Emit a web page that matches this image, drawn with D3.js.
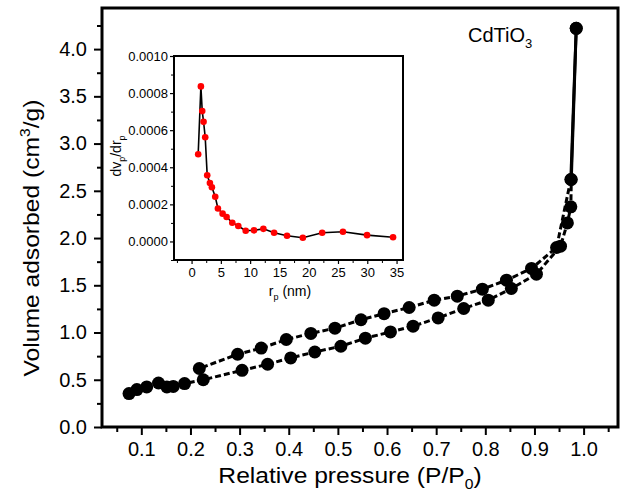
<!DOCTYPE html>
<html>
<head>
<meta charset="utf-8">
<script src="https://cdn.jsdelivr.net/npm/d3@7"></script>
<style>
  html, body { margin: 0; padding: 0; background: #fff; }
  svg { display: block; font-family: "Liberation Sans", Arial, sans-serif; }
</style>
</head>
<body>
<svg id="chart" width="622" height="495"></svg>
<script>
// ---- Main isotherm data (P/P0, volume cm3/g) ----
const adsP = [0.075, 0.091, 0.111, 0.135, 0.152, 0.165, 0.188, 0.226, 0.305, 0.357, 0.404, 0.453, 0.506, 0.556, 0.607, 0.653, 0.704, 0.756, 0.806, 0.853, 0.904, 0.953, 0.967, 0.974, 0.975, 0.985];
const adsV = [0.354, 0.396, 0.424, 0.466, 0.424, 0.43, 0.46, 0.50, 0.60, 0.664, 0.731, 0.794, 0.855, 0.94, 1.006, 1.067, 1.155, 1.254, 1.342, 1.466, 1.618, 1.914, 2.16, 2.33, 2.62, 4.22];
const desP = [0.985, 0.974, 0.945, 0.894, 0.843, 0.794, 0.743, 0.696, 0.645, 0.594, 0.547, 0.494, 0.445, 0.395, 0.344, 0.296, 0.218];
const desV = [4.22, 2.62, 1.90, 1.678, 1.554, 1.459, 1.385, 1.342, 1.265, 1.20, 1.135, 1.046, 0.99, 0.926, 0.835, 0.77, 0.619];
const xTickLabels = [0.1, 0.2, 0.3, 0.4, 0.5, 0.6, 0.7, 0.8, 0.9, 1.0];
const yTickLabels = [0.0, 0.5, 1.0, 1.5, 2.0, 2.5, 3.0, 3.5, 4.0];

// ---- Inset pore size distribution (rp nm, dVp/drp) ----
const poreR = [1.13, 1.59, 1.82, 2.05, 2.33, 2.67, 3.13, 3.47, 4.04, 4.5, 5.3, 5.98, 6.95, 7.98, 9.24, 10.66, 12.26, 14.09, 16.3, 19.0, 22.3, 25.85, 29.96, 34.4];
const poreD = [0.00047, 0.000836, 0.000703, 0.000645, 0.000562, 0.000357, 0.000315, 0.000292, 0.000241, 0.000178, 0.00015, 0.000132, 0.000101, 0.000083, 0.000058, 0.00006, 0.000068, 0.000047, 0.000031, 0.00002, 0.000047, 0.000052, 0.000034, 0.000023];
const insetXTicks = [0, 5, 10, 15, 20, 25, 30, 35];
const insetYTicks = [0.0000, 0.0002, 0.0004, 0.0006, 0.0008, 0.0010];

const svg = d3.select("#chart");

// ---------- Main chart ----------
const L = 102, R = 618, T = 8, B = 427;
const x = d3.scaleLinear().domain([0.02, 1.07]).range([L, R]);
const y = d3.scaleLinear().domain([0, 4.435]).range([B, T]);

// minor ticks
svg.append("g").attr("transform", `translate(0,${B})`)
  .call(d3.axisBottom(x).tickValues(d3.range(0.05, 1.06, 0.1)).tickSize(5).tickFormat(""))
  .call(g => g.select(".domain").remove())
  .selectAll("line").attr("stroke", "#000").attr("stroke-width", 2);
svg.append("g").attr("transform", `translate(${L},0)`)
  .call(d3.axisLeft(y).tickValues(d3.range(0.25, 4.3, 0.5)).tickSize(5).tickFormat(""))
  .call(g => g.select(".domain").remove())
  .selectAll("line").attr("stroke", "#000").attr("stroke-width", 2);

// major ticks
const xAx = svg.append("g").attr("transform", `translate(0,${B})`)
  .call(d3.axisBottom(x).tickValues(xTickLabels).tickSize(8).tickPadding(7).tickFormat(d3.format(".1f")));
xAx.select(".domain").remove();
xAx.selectAll("line").attr("stroke", "#000").attr("stroke-width", 2);
xAx.selectAll("text").attr("font-size", 20).attr("fill", "#000").attr("font-family", "Liberation Sans, Arial, sans-serif");

const yAx = svg.append("g").attr("transform", `translate(${L},0)`)
  .call(d3.axisLeft(y).tickValues(yTickLabels).tickSize(8).tickPadding(7).tickFormat(d3.format(".1f")));
yAx.select(".domain").remove();
yAx.selectAll("line").attr("stroke", "#000").attr("stroke-width", 2);
yAx.selectAll("text").attr("font-size", 20).attr("fill", "#000").attr("font-family", "Liberation Sans, Arial, sans-serif");

// frame
svg.append("rect").attr("x", L).attr("y", T).attr("width", R - L).attr("height", B - T)
  .attr("fill", "none").attr("stroke", "#000").attr("stroke-width", 3);

// series
const line = d3.line().x(d => x(d[0])).y(d => y(d[1]));
const ads = adsP.map((p, i) => [p, adsV[i]]);
const des = desP.map((p, i) => [p, desV[i]]);
// dashed body of each branch
svg.append("path").datum(ads.slice(0, ads.length - 1)).attr("d", line).attr("fill", "none")
  .attr("stroke", "#000").attr("stroke-width", 3).attr("stroke-dasharray", "6,3");
svg.append("path").datum(des.slice(1)).attr("d", line).attr("fill", "none")
  .attr("stroke", "#000").attr("stroke-width", 3).attr("stroke-dasharray", "6,3");
// solid steep rise to the last point
svg.append("path").datum(ads.slice(ads.length - 2)).attr("d", line).attr("fill", "none")
  .attr("stroke", "#000").attr("stroke-width", 3);
svg.append("path").datum(des.slice(0, 2)).attr("d", line).attr("fill", "none")
  .attr("stroke", "#000").attr("stroke-width", 3);
[ads, des].forEach(s => {
  svg.append("g").selectAll("circle").data(s).join("circle")
    .attr("cx", d => x(d[0])).attr("cy", d => y(d[1])).attr("r", 6.5).attr("fill", "#000");
});

// axis titles
const xt = svg.append("text").attr("text-anchor", "middle").attr("font-size", 22).attr("fill", "#000")
  .attr("transform", `translate(350,483) scale(1.12,1)`);
xt.append("tspan").text("Relative pressure (P/P");
xt.append("tspan").attr("font-size", 14).attr("dy", 6).text("0");
xt.append("tspan").attr("dy", -6).text(")");

const yt = svg.append("text").attr("text-anchor", "middle").attr("font-size", 22).attr("fill", "#000")
  .attr("transform", `translate(39,238) rotate(-90) scale(1.12,1)`);
yt.append("tspan").text("Volume adsorbed (cm");
yt.append("tspan").attr("font-size", 14).attr("dy", -9).text("3");
yt.append("tspan").attr("dy", 9).text("/g)");

const lab = svg.append("text").attr("x", 468).attr("y", 42).attr("font-size", 20).attr("fill", "#000");
lab.append("tspan").text("CdTiO");
lab.append("tspan").attr("font-size", 13).attr("dy", 6).text("3");

// ---------- Inset ----------
const iL = 174, iR = 403, iT = 56, iB = 260;
const ix = d3.scaleLinear().domain([-3, 36.1]).range([iL, iR]);
const iy = d3.scaleLinear().domain([-0.0001, 0.0010]).range([iB, iT]);

svg.append("g").attr("transform", `translate(0,${iB})`)
  .call(d3.axisBottom(ix).tickValues(d3.range(-2.5, 36, 5)).tickSize(3).tickFormat(""))
  .call(g => g.select(".domain").remove())
  .selectAll("line").attr("stroke", "#000").attr("stroke-width", 1);
svg.append("g").attr("transform", `translate(${iL},0)`)
  .call(d3.axisLeft(iy).tickValues([-0.0001, 0.0001, 0.0003, 0.0005, 0.0007, 0.0009]).tickSize(3).tickFormat(""))
  .call(g => g.select(".domain").remove())
  .selectAll("line").attr("stroke", "#000").attr("stroke-width", 1);

const ixAx = svg.append("g").attr("transform", `translate(0,${iB})`)
  .call(d3.axisBottom(ix).tickValues(insetXTicks).tickSize(4).tickPadding(4).tickFormat(d3.format("d")));
ixAx.select(".domain").remove();
ixAx.selectAll("line").attr("stroke", "#000").attr("stroke-width", 1.2);
ixAx.selectAll("text").attr("font-size", 13).attr("fill", "#000").attr("font-family", "Liberation Sans, Arial, sans-serif");

const iyAx = svg.append("g").attr("transform", `translate(${iL},0)`)
  .call(d3.axisLeft(iy).tickValues(insetYTicks).tickSize(4).tickPadding(2).tickFormat(d3.format(".4f")));
iyAx.select(".domain").remove();
iyAx.selectAll("line").attr("stroke", "#000").attr("stroke-width", 1.2);
iyAx.selectAll("text").attr("font-size", 13).attr("fill", "#000").attr("font-family", "Liberation Sans, Arial, sans-serif");

svg.append("rect").attr("x", iL).attr("y", iT).attr("width", iR - iL).attr("height", iB - iT)
  .attr("fill", "none").attr("stroke", "#000").attr("stroke-width", 2);

const pore = poreR.map((r, i) => [r, poreD[i]]);
svg.append("path").datum(pore)
  .attr("d", d3.line().x(d => ix(d[0])).y(d => iy(d[1])))
  .attr("fill", "none").attr("stroke", "#000").attr("stroke-width", 1.6);
svg.append("g").selectAll("circle").data(pore).join("circle")
  .attr("cx", d => ix(d[0])).attr("cy", d => iy(d[1])).attr("r", 3.3).attr("fill", "#ff0000");

const ixt = svg.append("text").attr("text-anchor", "middle").attr("font-size", 14).attr("fill", "#000")
  .attr("x", 290).attr("y", 296);
ixt.append("tspan").text("r");
ixt.append("tspan").attr("font-size", 9).attr("dy", 4).text("p");
ixt.append("tspan").attr("dy", -4).text(" (nm)");

const iyt = svg.append("text").attr("text-anchor", "middle").attr("font-size", 14).attr("fill", "#000")
  .attr("transform", `translate(121,156) rotate(-90)`);
iyt.append("tspan").text("dv");
iyt.append("tspan").attr("font-size", 9).attr("dy", 4).text("p");
iyt.append("tspan").attr("dy", -4).text("/dr");
iyt.append("tspan").attr("font-size", 9).attr("dy", 4).text("p");
</script>
</body>
</html>
